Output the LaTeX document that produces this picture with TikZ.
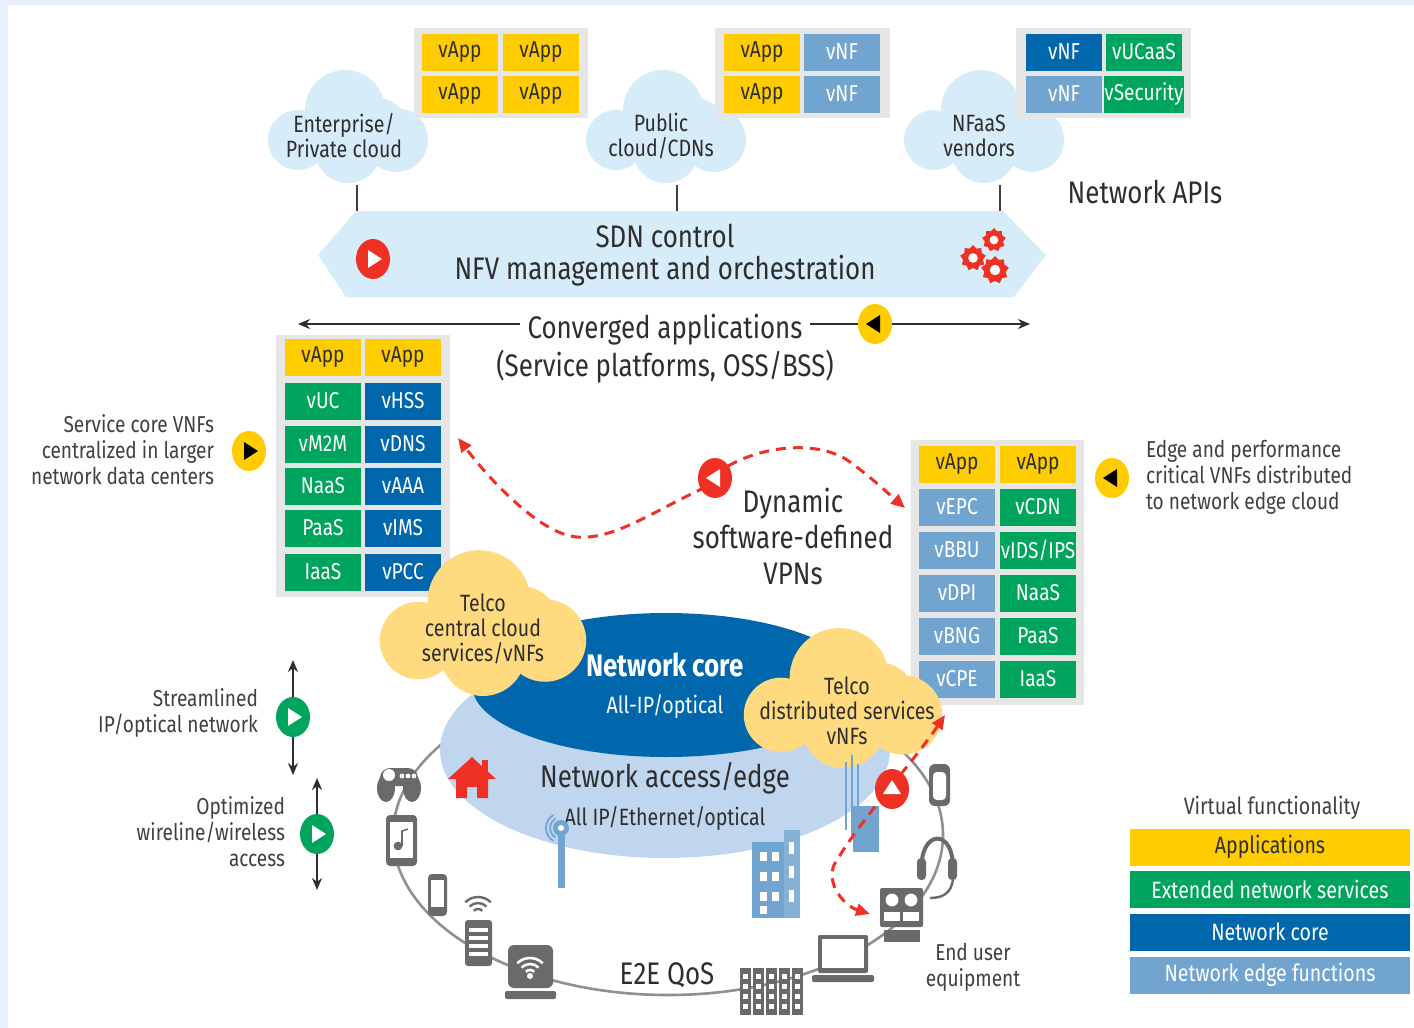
\documentclass[tikz,border=0pt]{standalone}
\usepackage{fontspec}
\setmainfont{Fira Sans}[FakeStretch=0.83]
\usetikzlibrary{arrows.meta,shapes.geometric,calc}

\definecolor{cyel}{HTML}{FFCC00}
\definecolor{cgrn}{HTML}{00A55D}
\definecolor{cdkb}{HTML}{0067AC}
\definecolor{cltb}{HTML}{72A4D0}
\definecolor{cgrybg}{HTML}{E6E6E6}
\definecolor{ccloud}{HTML}{D7ECF9}
\definecolor{cyc}{HTML}{FFDA7F}
\definecolor{caccess}{HTML}{BFD6EE}
\definecolor{cred}{HTML}{EE3124}
\definecolor{ctext}{HTML}{2E2E2E}
\definecolor{clbl}{HTML}{404040}
\definecolor{cicon}{HTML}{6A6A6A}
\definecolor{cring}{HTML}{909090}
\definecolor{cframe}{HTML}{E8F0FD}

\newcommand{\fsbig}{\fontsize{15.6}{18}\selectfont}
\newcommand{\fsmed}{\fontsize{11.8}{12.5}\selectfont}
\newcommand{\fssm}{\fontsize{11.5}{13}\selectfont}

% one coloured cell of a function grid
\newcommand{\vcell}[6]{\node[cellbox,fill=#4,text=#5] (#1) at (#2,#3) {#6};}
% round badge with a triangle mark, rotated by #6 degrees
\newcommand{\badge}[6]{%
  \node[badgeshape,fill=#4] (#1) at (#2,#3) {};
  \fill[#5,rotate around={#6:(#1.center)}]
    ($(#1.center)+(-5,-9)$) -- ($(#1.center)+(9,0)$) -- ($(#1.center)+(-5,9)$) -- cycle;}

\tikzset{
  cellbox/.style={rectangle,minimum width=38pt,minimum height=18.5pt,inner sep=0pt,
    font=\fontsize{11.5}{12}\selectfont},
  badgeshape/.style={ellipse,minimum width=17pt,minimum height=20pt,inner sep=0pt},
  cloudtxt/.style={align=center,text=ctext,font=\fontsize{11.8}{12.5}\selectfont},
  lbl/.style={text=clbl,font=\fssm},
  legendbar/.style={rectangle,minimum width=140pt,minimum height=18.5pt,inner sep=0pt,
    font=\fsmed},
  stem/.style={draw=clbl,line width=0.8pt},
  reddash/.style={draw=cred,line width=1.5pt,dash pattern=on 5pt off 3.5pt},
  redtip/.style={-{Triangle[length=7pt,width=6pt]}},
  dbl/.style={draw=ctext,line width=1.2pt,{Stealth[length=6pt,width=5pt]}-{Stealth[length=6pt,width=5pt]}},
  pics/puff/.style={code={
    \fill[#1] (-3,-18) circle[radius=20pt];
    \fill[#1] (-50,12) circle[radius=15pt];
    \fill[#1] (30,-2) circle[radius=14pt];
    \fill[#1] (48,12) circle[radius=16pt];
    \fill[#1] (0,22) circle[radius=16.5pt];
    \fill[#1] (-50,-2) rectangle (48,30);
  }}
}

\begin{document}
\begin{tikzpicture}[x=0.5pt,y=-0.5pt]
\useasboundingbox (0,0) rectangle (1414,1028);
\fill[white] (0,0) rectangle (1414,1028);
\fill[cframe] (0,0) rectangle (1414,5);
\fill[cframe] (0,0) rectangle (8,1028);

% ---------- top row: clouds and their function grids ----------
\pic at (348,128) {puff=ccloud};
\pic at (666,128) {puff=ccloud};
\pic at (984,128) {puff=ccloud};
\node[cloudtxt] (entc) at (344,136) {Enterprise/\\Private cloud};
\node[cloudtxt] (pubc) at (661,136) {Public\\cloud/CDNs};
\node[cloudtxt] (nfc) at (979,136) {NFaaS\\vendors};

\fill[cgrybg] (414,28) rectangle (588,118);
\vcell{a1}{460}{52}{cyel}{ctext}{vApp}
\vcell{a2}{541}{52}{cyel}{ctext}{vApp}
\vcell{a3}{460}{94}{cyel}{ctext}{vApp}
\vcell{a4}{541}{94}{cyel}{ctext}{vApp}

\fill[cgrybg] (715,28) rectangle (890,118);
\vcell{b1}{762}{52}{cyel}{ctext}{vApp}
\vcell{b2}{842}{52}{cltb}{white}{vNF}
\vcell{b3}{762}{94}{cyel}{ctext}{vApp}
\vcell{b4}{842}{94}{cltb}{white}{vNF}

\fill[cgrybg] (1016,28) rectangle (1191,118);
\vcell{c1}{1064}{52}{cdkb}{white}{vNF}
\vcell{c2}{1144}{52}{cgrn}{white}{vUCaaS}
\vcell{c3}{1064}{94}{cltb}{white}{vNF}
\vcell{c4}{1144}{94}{cgrn}{white}{vSecurity}

\node[text=ctext,font=\fsbig] (apis) at (1145,192) {Network APIs};

% ---------- SDN / NFV band ----------
\fill[ccloud] (318,255) -- (356,211) -- (1003,211) -- (1046,255) -- (1014,297) -- (346,297) -- cycle;
\coordinate (bandtop) at (0,211);
\coordinate (entb) at (357,185);
\coordinate (pubb) at (677,185);
\coordinate (nfb) at (1000,185);
\draw[stem] (entb) -- (entb |- bandtop);
\draw[stem] (pubb) -- (pubb |- bandtop);
\draw[stem] (nfb) -- (nfb |- bandtop);

\node[text=ctext,font=\fsbig] (sdn) at (665,236) {SDN control};
\node[text=ctext,font=\fsbig] (nfv) at (665,271) {NFV management and orchestration};
\badge{rplay}{373}{259}{cred}{white}{0}
\node[star,star points=9,star point ratio=1.3,fill=cred,minimum size=12pt,inner sep=0pt] (g1) at (994,240) {};
\node[star,star points=9,star point ratio=1.3,fill=cred,minimum size=13pt,inner sep=0pt] (g2) at (973,258) {};
\node[star,star points=9,star point ratio=1.3,fill=cred,minimum size=14pt,inner sep=0pt] (g3) at (995,270) {};
\fill[white] (g1.center) circle[radius=2.2pt];
\fill[white] (g2.center) circle[radius=2.4pt];
\fill[white] (g3.center) circle[radius=2.6pt];

% ---------- converged applications ----------
\node[text=ctext,font=\fsbig] (conv1) at (665,330) {Converged applications};
\node[text=ctext,font=\fsbig] (conv2) at (665,367) {(Service platforms, OSS/BSS)};
\coordinate (convl) at (298,324);
\coordinate (convr) at (1030,324);
\badge{ybadge}{875}{324}{cyel}{black}{180}
\draw[ctext,line width=1pt,-{Stealth[length=6pt,width=5pt]}] (conv1.west |- convl) -- (convl);
\draw[ctext,line width=1pt] (conv1.east |- convr) -- (ybadge.west);
\draw[ctext,line width=1pt,-{Stealth[length=6pt,width=5pt]}] (ybadge.east) -- (convr);

% ---------- service core grid (left) ----------
\fill[cgrybg] (276,335) rectangle (450,597);
\vcell{l1}{323}{357}{cyel}{ctext}{vApp}
\vcell{l2}{403}{357}{cyel}{ctext}{vApp}
\vcell{l3}{323}{401}{cgrn}{white}{vUC}
\vcell{l4}{403}{401}{cdkb}{white}{vHSS}
\vcell{l5}{323}{444}{cgrn}{white}{vM2M}
\vcell{l6}{403}{444}{cdkb}{white}{vDNS}
\vcell{l7}{323}{486}{cgrn}{white}{NaaS}
\vcell{l8}{403}{486}{cdkb}{white}{vAAA}
\vcell{l9}{323}{528}{cgrn}{white}{PaaS}
\vcell{l10}{403}{528}{cdkb}{white}{vIMS}
\vcell{l11}{323}{572}{cgrn}{white}{IaaS}
\vcell{l12}{403}{572}{cdkb}{white}{vPCC}

\node[lbl,align=right,anchor=east] (svc) at (221,450) {Service core VNFs\\centralized in larger\\network data centers};
\badge{ysvc}{249}{451}{cyel}{black}{0}

% ---------- edge grid (right) ----------
\fill[cgrybg] (911,440) rectangle (1084,705);
\vcell{r1}{957}{464}{cyel}{ctext}{vApp}
\vcell{r2}{1038}{464}{cyel}{ctext}{vApp}
\vcell{r3}{957}{507}{cltb}{white}{vEPC}
\vcell{r4}{1038}{507}{cgrn}{white}{vCDN}
\vcell{r5}{957}{550}{cltb}{white}{vBBU}
\vcell{r6}{1038}{550}{cgrn}{white}{vIDS/IPS}
\vcell{r7}{957}{593}{cltb}{white}{vDPI}
\vcell{r8}{1038}{593}{cgrn}{white}{NaaS}
\vcell{r9}{957}{636}{cltb}{white}{vBNG}
\vcell{r10}{1038}{636}{cgrn}{white}{PaaS}
\vcell{r11}{957}{679}{cltb}{white}{vCPE}
\vcell{r12}{1038}{679}{cgrn}{white}{IaaS}

\badge{yedge}{1112}{478}{cyel}{black}{180}
\node[lbl,align=left,anchor=west] (edgelbl) at (1139,477) {Edge and performance\\critical VNFs distributed\\to network edge cloud};

% ---------- dynamic VPNs ----------
\node[text=ctext,font=\fsbig,align=center] (dyn) at (793,537) {Dynamic\\software-defined\\VPNs};
\coordinate (vpnl) at (458,438);
\coordinate (vpnr) at (905,508);
\draw[reddash,redtip] (706,487) .. controls (655,510) and (615,540) .. (577,537)
   .. controls (540,534) and (490,480) .. (vpnl);
\draw[reddash,redtip] (728,466) .. controls (765,445) and (820,440) .. (850,462)
   .. controls (872,478) and (890,495) .. (vpnr);
\badge{rvpn}{715}{478}{cred}{white}{180}

% ---------- end-user ring ----------
\draw[cring,line width=1.3pt] (668,835) ellipse[x radius=137.5pt,y radius=80pt];

% ---------- access and core ----------
\fill[caccess] (665,750) ellipse[x radius=112.5pt,y radius=54pt];
\fill[cdkb] (666,685) ellipse[x radius=97pt,y radius=36pt];
\pic[scale=1.29] at (483,625) {puff=cyc};
\pic[scale=1.24] at (843,700) {puff=cyc};

\node[text=white,font=\fontsize{15.6}{18}\bfseries] (core) at (665,665) {Network core};
\node[text=white,font=\fsmed] (coresub) at (665,706) {All-IP/optical};
\node[text=ctext,font=\fsbig] (acc) at (665,778) {Network access/edge};
\node[text=ctext,font=\fsmed] (accsub) at (665,818) {All IP/Ethernet/optical};
\node[cloudtxt] (tcc) at (483,629) {Telco\\central cloud\\services/vNFs};
\node[cloudtxt] (tdc) at (847,711) {Telco\\distributed services\\vNFs};

% ---------- access side icons (blue, red) ----------
% antenna
\fill[cltb] (558,822) rectangle (565,888);
\fill[cltb] (561,828) circle[radius=4pt];
\fill[white] (561,828) circle[radius=1.5pt];
\foreach \r in {7,11,15} \draw[cltb,line width=0.9pt] ($(561,828)+(-120:\r)$) arc[start angle=120,end angle=240,radius=\r*0.5pt];
% buildings
\fill[cltb] (752,842) rectangle (784,918);
\fill[cltb!85] (784,830) rectangle (800,918);
\foreach \yy in {852,872,892} {\fill[white] (760,\yy) rectangle (767,\yy+9); \fill[white] (772,\yy) rectangle (779,\yy+9);}
\fill[white] (760,906) rectangle (767,914);
\foreach \yy in {842,866,890} \fill[white] (789,\yy) rectangle (794,\yy+12);
% cell tower and phone
\draw[cltb,line width=1pt] (846,762) -- (846,830);
\draw[cltb,line width=1.2pt] (852,755) -- (852,835);
\draw[cltb,line width=1pt] (858,764) -- (858,828);
\fill[cltb] (853,806) rectangle (879,852);
% house
\fill[cred] (472,757) -- (496,779) -- (488,779) -- (488,798) -- (477,798) -- (477,787) -- (467,787) -- (467,798) -- (456,798) -- (456,779) -- (448,779) -- cycle;
\fill[cred] (482,760) rectangle (488,772);

% ---------- end-user device icons ----------
% game controller
\fill[cicon,rounded corners=5pt] (380,768) rectangle (418,786);
\fill[cicon] (386,788) ellipse[x radius=4.5pt,y radius=7pt];
\fill[cicon] (412,788) ellipse[x radius=4.5pt,y radius=7pt];
\fill[white] (389,775) circle[radius=3pt];
\foreach \xx in {402,408,414} \fill[white] (\xx,776) circle[radius=1.2pt];
% tablet
\fill[cicon,rounded corners=2pt] (386,815) rectangle (417,866);
\fill[white] (390,822) rectangle (413,858);
\fill[cicon] (398,846) circle[radius=2.2pt];
\draw[cicon,line width=0.8pt] (402,846) -- (402,831) -- (408,829);
% phone
\fill[cicon,rounded corners=2pt] (428,874) rectangle (447,916);
\fill[white] (431,880) rectangle (444,907);
% server with wifi
\fill[cicon,rounded corners=1.5pt] (465,920) rectangle (492,966);
\foreach \yy in {928,936,944,952} \fill[white] (469,\yy) rectangle (488,\yy+4);
\foreach \r in {6,12,18} \draw[cicon,line width=1.2pt] ($(478,915)+(-45:\r)$) arc[start angle=45,end angle=135,radius=\r*0.5pt];
% router
\fill[cicon,rounded corners=3pt] (508,945) rectangle (553,988);
\fill[cicon,rounded corners=1pt] (505,991) rectangle (556,999);
\foreach \r in {6,12,18} \draw[white,line width=1.3pt] ($(530,976)+(-45:\r)$) arc[start angle=45,end angle=135,radius=\r*0.5pt];
\fill[white] (530,976) circle[radius=1.5pt];
% rack
\foreach \xx in {740,753,766,779,792} {
  \fill[cicon] (\xx,968) rectangle (\xx+11,1015);
  \foreach \yy in {974,984,994,1004} \fill[white] (\xx+3,\yy) rectangle (\xx+8,\yy+5);}
% laptop
\fill[cicon,rounded corners=1pt] (818,935) rectangle (868,973);
\fill[white] (822,939) rectangle (864,968);
\fill[cicon,rounded corners=1pt] (812,975) rectangle (874,982);
% video conference
\fill[cicon,rounded corners=1pt] (880,888) rectangle (923,927);
\fill[white] (892,900) circle[radius=3.2pt];
\fill[white] (911,900) circle[radius=3.2pt];
\fill[white] (884,921) rectangle (900,912);
\fill[white] (903,921) rectangle (919,912);
\fill[cicon] (884,930) rectangle (920,942);
% headset
\draw[cicon,line width=2pt] (922,872) .. controls (918,830) and (955,825) .. (953,872);
\fill[cicon,rounded corners=2pt] (917,858) rectangle (926,880);
\fill[cicon,rounded corners=2pt] (948,858) rectangle (957,880);
\draw[cicon,line width=1.2pt] (953,878) .. controls (952,895) and (940,898) .. (930,898);
% handset device
\fill[cicon,rounded corners=3pt] (929,764) rectangle (950,806);
\fill[white,rounded corners=2pt] (933,772) rectangle (946,800);

% ---------- red path to end users ----------
\coordinate (uetip) at (945,715);
\coordinate (ueend) at (870,914);
\draw[reddash,{Triangle[length=7pt,width=6pt]}-{Triangle[length=7pt,width=6pt]}]
  (uetip) .. controls (915,760) and (860,820) .. (834,865) .. controls (826,885) and (845,906) .. (ueend);
\badge{rue}{892}{789}{cred}{white}{90}

\node[text=ctext,font=\fsbig] (qos) at (667,975) {E2E QoS};
\node[lbl,align=center] (eue) at (973,967) {End user\\equipment};

% ---------- left side notes ----------
\node[lbl,align=right,anchor=east] (strm) at (265,713) {Streamlined\\IP/optical network};
\coordinate (s1t) at (293,660);
\coordinate (s1b) at (293,775);
\draw[dbl] (s1t) -- (s1b);
\badge{gs1}{293}{717}{cgrn}{white}{0}
\node[lbl,align=right,anchor=east] (opt) at (292,832) {Optimized\\wireline/wireless\\access};
\coordinate (s2t) at (317,778);
\coordinate (s2b) at (317,890);
\draw[dbl] (s2t) -- (s2b);
\badge{gs2}{317}{834}{cgrn}{white}{0}

% ---------- legend ----------
\node[lbl,font=\fsmed] (vfl) at (1272,808) {Virtual functionality};
\node[legendbar,fill=cyel,text=ctext] (lg1) at (1270,847) {Applications};
\node[legendbar,fill=cgrn,text=white] (lg2) at (1270,889) {Extended network services};
\node[legendbar,fill=cdkb,text=white] (lg3) at (1270,932) {Network core};
\node[legendbar,fill=cltb,text=white] (lg4) at (1270,975) {Network edge functions};
\end{tikzpicture}
\end{document}
